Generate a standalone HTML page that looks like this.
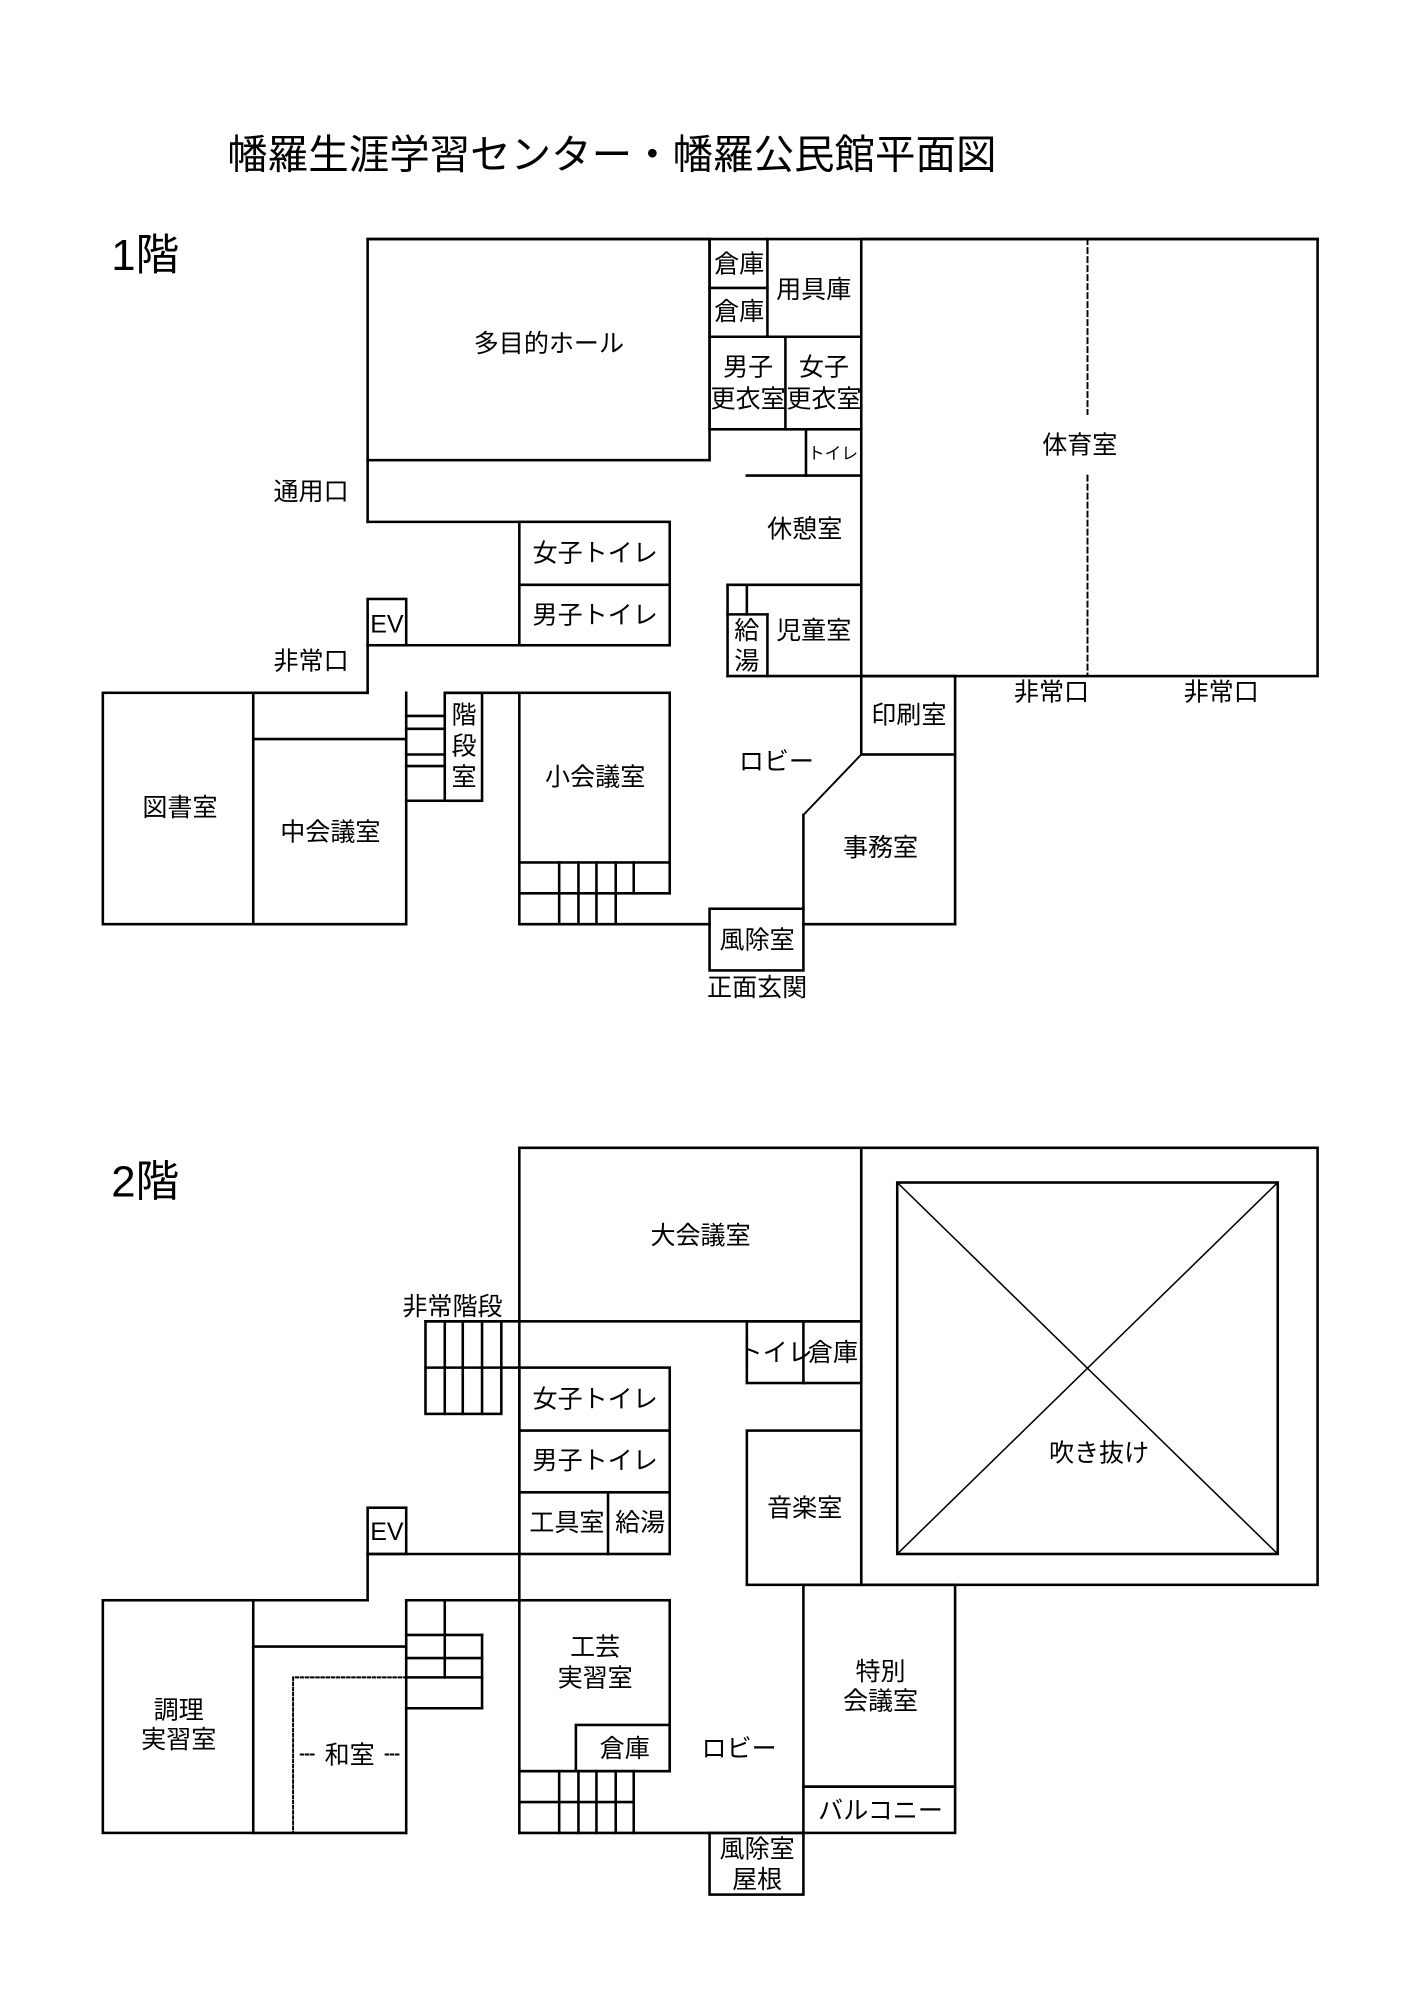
<!DOCTYPE html>
<html><head><meta charset="utf-8"><style>
html,body{margin:0;padding:0;background:#fff;}
svg{display:block;}
text{font-family:"Liberation Sans","Noto Sans CJK JP",sans-serif;fill:#000;}
</style></head><body>
<svg width="1414" height="2000" viewBox="0 0 1100 1556" preserveAspectRatio="none" xmlns="http://www.w3.org/2000/svg">
<g stroke="#000" stroke-width="2" fill="none" stroke-linecap="square">
<rect x="286" y="186" width="266" height="172"/>
<line x1="286" y1="186" x2="1025" y2="186"/>
<rect x="670" y="186" width="355" height="340"/>
<line x1="846" y1="186" x2="846" y2="322" stroke-dasharray="4,3" stroke-width="1.5"/>
<line x1="846" y1="370" x2="846" y2="526" stroke-dasharray="4,3" stroke-width="1.5"/>
<line x1="552" y1="186" x2="552" y2="334"/>
<line x1="597" y1="186" x2="597" y2="262"/>
<line x1="552" y1="224" x2="597" y2="224"/>
<line x1="552" y1="262" x2="670" y2="262"/>
<line x1="611" y1="262" x2="611" y2="334"/>
<line x1="552" y1="334" x2="670" y2="334"/>
<line x1="627" y1="334" x2="627" y2="370"/>
<line x1="581" y1="370" x2="670" y2="370"/>
<line x1="286" y1="358" x2="286" y2="406"/>
<line x1="286" y1="406" x2="404" y2="406"/>
<rect x="404" y="406" width="117" height="96"/>
<line x1="404" y1="455" x2="521" y2="455"/>
<line x1="286" y1="502" x2="404" y2="502"/>
<rect x="286" y="466" width="30" height="36"/>
<line x1="286" y1="502" x2="286" y2="539"/>
<line x1="566" y1="455" x2="670" y2="455"/>
<line x1="566" y1="455" x2="566" y2="526"/>
<line x1="581" y1="455" x2="581" y2="478"/>
<line x1="566" y1="478" x2="597" y2="478"/>
<line x1="597" y1="478" x2="597" y2="526"/>
<line x1="566" y1="526" x2="670" y2="526"/>
<rect x="670" y="526" width="73" height="61"/>
<line x1="670" y1="587" x2="625" y2="634" stroke-width="1.5"/>
<line x1="625" y1="634" x2="625" y2="707"/>
<line x1="743" y1="587" x2="743" y2="719"/>
<line x1="625" y1="719" x2="743" y2="719"/>
<rect x="552" y="707" width="73" height="48"/>
<line x1="404" y1="719" x2="552" y2="719"/>
<rect x="404" y="539" width="117" height="132"/>
<line x1="404" y1="671" x2="404" y2="719"/>
<line x1="404" y1="695" x2="521" y2="695"/>
<line x1="521" y1="671" x2="521" y2="695"/>
<line x1="435" y1="671" x2="435" y2="719"/>
<line x1="450" y1="671" x2="450" y2="719"/>
<line x1="464" y1="671" x2="464" y2="719"/>
<line x1="479" y1="671" x2="479" y2="719"/>
<line x1="493" y1="671" x2="493" y2="695"/>
<rect x="346" y="539" width="29" height="84"/>
<line x1="346" y1="539" x2="404" y2="539"/>
<line x1="316" y1="539" x2="316" y2="719"/>
<line x1="316" y1="557" x2="346" y2="557"/>
<line x1="316" y1="567" x2="346" y2="567"/>
<line x1="316" y1="587" x2="346" y2="587"/>
<line x1="316" y1="596" x2="346" y2="596"/>
<line x1="316" y1="623" x2="346" y2="623"/>
<rect x="80" y="539" width="117" height="180"/>
<line x1="197" y1="539" x2="286" y2="539"/>
<line x1="197" y1="575" x2="316" y2="575"/>
<line x1="197" y1="719" x2="316" y2="719"/>
<rect x="404" y="893" width="266" height="135"/>
<rect x="670" y="893" width="355" height="340"/>
<rect x="698" y="920" width="296" height="289"/>
<line x1="698" y1="920" x2="994" y2="1209" stroke-width="1.2"/>
<line x1="994" y1="920" x2="698" y2="1209" stroke-width="1.2"/>
<line x1="331" y1="1028" x2="404" y2="1028"/>
<rect x="331" y="1028" width="59" height="72"/>
<line x1="346" y1="1028" x2="346" y2="1100"/>
<line x1="360" y1="1028" x2="360" y2="1100"/>
<line x1="375" y1="1028" x2="375" y2="1100"/>
<line x1="331" y1="1064" x2="404" y2="1064"/>
<rect x="581" y="1028" width="89" height="48"/>
<line x1="625" y1="1028" x2="625" y2="1076"/>
<rect x="404" y="1064" width="117" height="145"/>
<line x1="404" y1="1113" x2="521" y2="1113"/>
<line x1="404" y1="1161" x2="521" y2="1161"/>
<line x1="473" y1="1161" x2="473" y2="1209"/>
<line x1="404" y1="1028" x2="404" y2="1245"/>
<rect x="286" y="1173" width="30" height="36"/>
<line x1="286" y1="1209" x2="404" y2="1209"/>
<line x1="286" y1="1209" x2="286" y2="1245"/>
<rect x="581" y="1113" width="89" height="120"/>
<rect x="625" y="1233" width="118" height="157"/>
<rect x="625" y="1390" width="118" height="36"/>
<rect x="404" y="1245" width="117" height="133"/>
<rect x="448" y="1342" width="73" height="36"/>
<line x1="404" y1="1378" x2="404" y2="1426"/>
<line x1="404" y1="1426" x2="625" y2="1426"/>
<line x1="404" y1="1402" x2="493" y2="1402"/>
<line x1="435" y1="1378" x2="435" y2="1426"/>
<line x1="450" y1="1378" x2="450" y2="1426"/>
<line x1="464" y1="1378" x2="464" y2="1426"/>
<line x1="479" y1="1378" x2="479" y2="1426"/>
<line x1="493" y1="1378" x2="493" y2="1426"/>
<line x1="404" y1="1378" x2="493" y2="1378"/>
<rect x="552" y="1426" width="73" height="48"/>
<rect x="80" y="1245" width="117" height="181"/>
<line x1="197" y1="1245" x2="286" y2="1245"/>
<line x1="316" y1="1245" x2="404" y2="1245"/>
<line x1="197" y1="1281" x2="316" y2="1281"/>
<line x1="197" y1="1426" x2="316" y2="1426"/>
<line x1="316" y1="1245" x2="316" y2="1426"/>
<line x1="346" y1="1245" x2="346" y2="1305"/>
<line x1="316" y1="1272" x2="375" y2="1272"/>
<line x1="316" y1="1290" x2="375" y2="1290"/>
<line x1="316" y1="1305" x2="375" y2="1305"/>
<line x1="316" y1="1329" x2="375" y2="1329"/>
<line x1="375" y1="1272" x2="375" y2="1329"/>
<polyline points="316,1305 228,1305 228,1426" stroke-dasharray="2,2" stroke-width="1.5"/>
<line x1="234" y1="1365" x2="244" y2="1365" stroke-dasharray="2,2" stroke-width="1.5"/>
<line x1="300" y1="1365" x2="312" y2="1365" stroke-dasharray="2,2" stroke-width="1.5"/>
</g>
<g font-size="19.5" text-anchor="middle">
<text x="476" y="131" font-size="31.5">幡羅生涯学習センター・幡羅公民館平面図</text>
<text x="113" y="210" font-size="34">1階</text>
<text x="427" y="274">多目的ホール</text>
<text x="575" y="212">倉庫</text>
<text x="575" y="249">倉庫</text>
<text x="633" y="232">用具庫</text>
<text x="582" y="292">男子</text>
<text x="582" y="317">更衣室</text>
<text x="641" y="292">女子</text>
<text x="641" y="317">更衣室</text>
<text x="648" y="357" font-size="13">トイレ</text>
<text x="840" y="353">体育室</text>
<text x="242" y="389">通用口</text>
<text x="626" y="418">休憩室</text>
<text x="463" y="437">女子トイレ</text>
<text x="463" y="485">男子トイレ</text>
<text x="301" y="492">EV</text>
<text x="242" y="521">非常口</text>
<text x="581" y="497">給</text>
<text x="581" y="521">湯</text>
<text x="633" y="497">児童室</text>
<text x="818" y="545">非常口</text>
<text x="950" y="545">非常口</text>
<text x="707" y="563">印刷室</text>
<text x="604" y="599">ロビー</text>
<text x="361" y="563">階</text>
<text x="361" y="587">段</text>
<text x="361" y="611">室</text>
<text x="463" y="611">小会議室</text>
<text x="140" y="635">図書室</text>
<text x="257" y="654">中会議室</text>
<text x="685" y="666">事務室</text>
<text x="589" y="738">風除室</text>
<text x="589" y="775">正面玄関</text>
<text x="113" y="931" font-size="34">2階</text>
<text x="545" y="968">大会議室</text>
<text x="352" y="1023">非常階段</text>
<text x="603" y="1059">トイレ</text>
<text x="648" y="1059">倉庫</text>
<text x="463" y="1095">女子トイレ</text>
<text x="463" y="1143">男子トイレ</text>
<text x="441" y="1191">工具室</text>
<text x="498" y="1191">給湯</text>
<text x="301" y="1198">EV</text>
<text x="855" y="1137">吹き抜け</text>
<text x="626" y="1180">音楽室</text>
<text x="463" y="1288">工芸</text>
<text x="463" y="1312">実習室</text>
<text x="685" y="1307">特別</text>
<text x="685" y="1330">会議室</text>
<text x="139" y="1337">調理</text>
<text x="139" y="1360">実習室</text>
<text x="272" y="1372">和室</text>
<text x="486" y="1367">倉庫</text>
<text x="575" y="1367">ロビー</text>
<text x="685" y="1415">バルコニー</text>
<text x="589" y="1445">風除室</text>
<text x="589" y="1469">屋根</text>
</g>
</svg>
</body></html>
